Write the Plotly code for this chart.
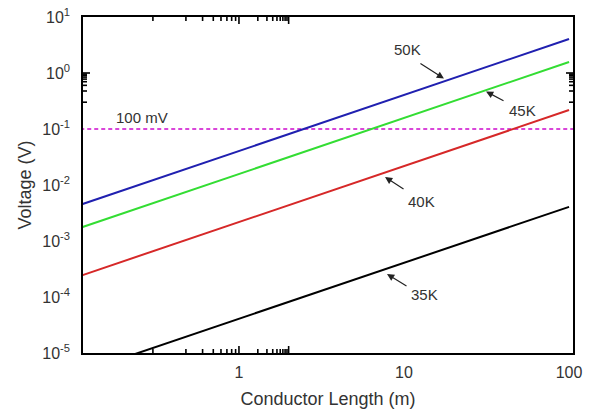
import math
import plotly.graph_objects as go

# Data
lengths = [0.11, 1, 10, 100]
v_50k = [0.00446, 0.0405, 0.405, 4.05]
v_45k = [0.00173, 0.0157, 0.157, 1.57]
v_40k = [0.00024, 0.00218, 0.0218, 0.218]
v_35k = [0.0000045, 0.0000407, 0.000407, 0.00407]
threshold_x = [0.05, 200]
threshold_v = [0.1, 0.1]

x_ticks = [1, 10, 100]
x_ticklabels = ["1", "10", "100"]
y_ticks = [1e-5, 1e-4, 1e-3, 1e-2, 1e-1, 1, 10]
y_ticklabels = ["10<sup>-5</sup>", "10<sup>-4</sup>", "10<sup>-3</sup>", "10<sup>-2</sup>",
                "10<sup>-1</sup>", "10<sup>0</sup>", "10<sup>1</sup>"]
minor_digits = [2, 3, 4, 5, 6, 7, 8, 9]
x_decades = [0.1, 1, 10, 100]
y_decades = [1e-5, 1e-4, 1e-3, 1e-2, 1e-1, 1]

X_RANGE = [-0.945, 2.024]
Y_RANGE = [-5, 1]
x_minor = [d * m for d in x_decades for m in minor_digits
           if X_RANGE[0] < math.log10(d * m) < X_RANGE[1]]
y_minor = [d * m for d in y_decades for m in minor_digits]

FONT = "Liberation Sans, Arial, sans-serif"
TXT = "#333333"

fig = go.Figure()
fig.add_trace(go.Scatter(x=threshold_x, y=threshold_v, mode="lines",
                         line=dict(color="#d946d9", width=2, dash="4px,3px")))
fig.add_trace(go.Scatter(x=lengths, y=v_50k, mode="lines", line=dict(color="#2020b0", width=2)))
fig.add_trace(go.Scatter(x=lengths, y=v_45k, mode="lines", line=dict(color="#33dd33", width=2)))
fig.add_trace(go.Scatter(x=lengths, y=v_40k, mode="lines", line=dict(color="#d62828", width=2)))
fig.add_trace(go.Scatter(x=lengths, y=v_35k, mode="lines", line=dict(color="#000000", width=2)))

axis_common = dict(
    showgrid=False, zeroline=False, showline=True, linecolor="black", linewidth=1.5,
    mirror=True, ticks="", tickfont=dict(family=FONT, size=16, color=TXT), automargin=False,
)

fig.update_layout(
    xaxis=dict(type="log", range=X_RANGE, tickmode="array", tickvals=x_ticks, ticktext=x_ticklabels,
               ticklabelstandoff=4,
               title=dict(text="Conductor Length (m)", font=dict(family=FONT, size=18, color=TXT), standoff=12),
               **axis_common),
    yaxis=dict(type="log", range=Y_RANGE, tickmode="array", tickvals=y_ticks, ticktext=y_ticklabels,
               ticklabelstandoff=8,
               title=dict(text="Voltage (V)", font=dict(family=FONT, size=18, color=TXT), standoff=6),
               **axis_common),
)

# Inside tick marks (all four sides), placed through the axes' own scales
PLOT_W, PLOT_H = 490, 336
MAJ, MIN = 7, 4
tick_line = dict(color="black", width=1.6)
for vals, ln in ((x_ticks, MAJ), (x_minor, MIN)):
    for v in vals:
        xv = math.log10(v)
        f = ln / PLOT_H
        fig.add_shape(type="line", xref="x", yref="y domain", x0=xv, x1=xv, y0=0, y1=f,
                      line=tick_line, layer="above")
        fig.add_shape(type="line", xref="x", yref="y domain", x0=xv, x1=xv, y0=1, y1=1 - f,
                      line=tick_line, layer="above")
for vals, ln in ((y_ticks, MAJ), (y_minor, MIN)):
    for v in vals:
        yv = math.log10(v)
        f = ln / PLOT_W
        fig.add_shape(type="line", xref="x domain", yref="y", y0=yv, y1=yv, x0=0, x1=f,
                      line=tick_line, layer="above")
        fig.add_shape(type="line", xref="x domain", yref="y", y0=yv, y1=yv, x0=1, x1=1 - f,
                      line=tick_line, layer="above")

annots = [
    # (text, x_log, y_log)
    ("100 mV", -0.588, -0.786),
    ("50K", 1.024, 0.411),
    ("45K", 1.715, -0.661),
    ("40K", 1.109, -2.286),
    ("35K", 1.127, -3.964),
]
for t, xl, yl in annots:
    fig.add_annotation(x=xl, y=yl, xref="x", yref="y", text=t, showarrow=False,
                       font=dict(family=FONT, size=15, color=TXT))

arrows = [
    # head x_log, head y_log, tail offset px
    (1.242, -0.10, -25, -16),
    (1.497, -0.33, 19, 10),
    (0.885, -1.857, 20, 13),
    (0.897, -3.589, 21, 13),
]
for xl, yl, ax, ay in arrows:
    fig.add_annotation(x=xl, y=yl, xref="x", yref="y", text="", showarrow=True,
                       ax=ax, ay=ay, arrowhead=2, arrowsize=1.2, arrowwidth=1.2,
                       arrowcolor="#222222")

fig.update_layout(
    width=590, height=414, showlegend=False,
    margin=dict(l=83, r=17, t=17, b=61),
    plot_bgcolor="white", paper_bgcolor="white",
)

fig.write_html("out.html", config={"displayModeBar": False},
               post_script="document.body.style.margin='0';")
